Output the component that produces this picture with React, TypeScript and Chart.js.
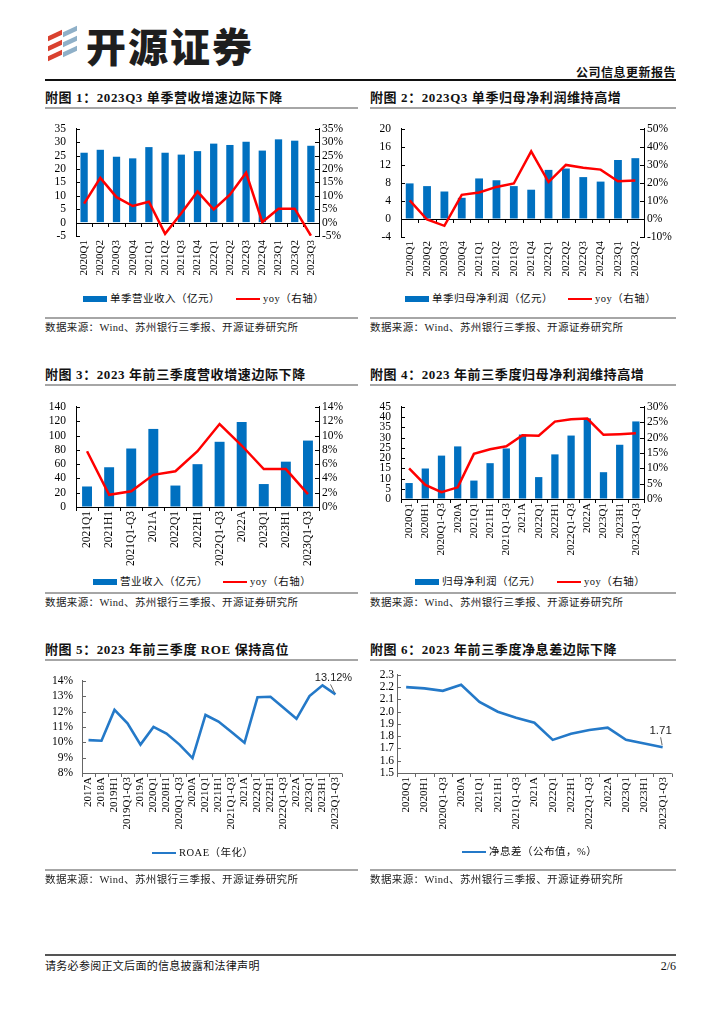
import React, { useEffect, useRef } from 'react';
import { Chart, registerables } from 'chart.js';

Chart.register(...registerables);

// ---------- DATA ----------
const quarterLabels1 = ['2020Q1', '2020Q2', '2020Q3', '2020Q4', '2021Q1', '2021Q2', '2021Q3', '2021Q4', '2022Q1', '2022Q2', '2022Q3', '2022Q4', '2023Q1', '2023Q2', '2023Q3'];
const quarterRevenue = [26.1, 27.2, 24.6, 24.0, 28.2, 26.1, 25.4, 26.7, 29.5, 29.0, 30.2, 26.9, 31.1, 30.6, 28.7];
const quarterRevenueYoy = [7.1, 16.7, 9.5, 6.2, 7.8, -4.2, 3.5, 11.6, 4.9, 10.4, 18.6, 0.2, 5.2, 5.2, -4.9];

const quarterLabels2 = ['2020Q1', '2020Q2', '2020Q3', '2020Q4', '2021Q1', '2021Q2', '2021Q3', '2021Q4', '2022Q1', '2022Q2', '2022Q3', '2022Q4', '2023Q1', '2023Q2'];
const quarterProfit = [7.9, 7.3, 6.1, 4.7, 9.0, 8.6, 7.3, 6.5, 10.9, 11.2, 9.3, 8.3, 13.1, 13.5];
const quarterProfitYoy = [10.3, -0.3, -3.8, 13.4, 14.7, 17.8, 19.7, 37.5, 20.5, 30.0, 28.4, 27.4, 20.9, 21.4];

const cumLabels3 = ['2021Q1', '2021H1', '2021Q1-Q3', '2021A', '2022Q1', '2022H1', '2022Q1-Q3', '2022A', '2023Q1', '2023H1', '2023Q1-Q3'];
const cumRevenue = [28.7, 55.6, 81.8, 109.2, 30.0, 59.9, 91.2, 119.0, 32.1, 63.4, 92.9];
const cumRevenueYoy = [7.8, 1.7, 2.2, 4.5, 5.0, 7.8, 11.6, 8.6, 5.3, 5.3, 1.8];

const cumLabels4 = ['2020Q1', '2020H1', '2020Q1-Q3', '2020A', '2021Q1', '2021H1', '2021Q1-Q3', '2021A', '2022Q1', '2022H1', '2022Q1-Q3', '2022A', '2023Q1', '2023H1', '2023Q1-Q3'];
const cumProfit = [7.8, 14.9, 21.2, 25.7, 9.0, 17.5, 24.7, 31.5, 10.7, 21.8, 31.0, 39.4, 13.1, 26.5, 37.9];
const cumProfitYoy = [10.0, 4.6, 2.2, 3.8, 14.7, 16.2, 17.2, 20.8, 20.6, 25.2, 26.0, 26.2, 20.9, 21.1, 21.4];

const roeLabels = ['2017A', '2018A', '2019H1', '2019Q1-Q3', '2019A', '2020Q1', '2020H1', '2020Q1-Q3', '2020A', '2021Q1', '2021H1', '2021Q1-Q3', '2021A', '2022Q1', '2022H1', '2022Q1-Q3', '2022A', '2023Q1', '2023H1', '2023Q1-Q3'];
const roeValues = [10.14, 10.1, 12.11, 11.23, 9.85, 11.0, 10.57, 9.85, 8.97, 11.78, 11.35, 10.67, 9.97, 12.93, 12.97, 12.25, 11.53, 13.01, 13.71, 13.12];

const nimLabels = ['2020Q1', '2020H1', '2020Q1-Q3', '2020A', '2021Q1', '2021H1', '2021Q1-Q3', '2021A', '2022Q1', '2022H1', '2022Q1-Q3', '2022A', '2023Q1', '2023H1', '2023Q1-Q3'];
const nimValues = [2.2, 2.19, 2.17, 2.22, 2.08, 2.0, 1.95, 1.91, 1.77, 1.82, 1.85, 1.87, 1.77, 1.74, 1.71];

// ---------- STYLE ----------
const SERIF = "'Liberation Serif', 'Times New Roman', serif";
const CJK = "'Liberation Serif', 'Noto Sans CJK SC', sans-serif";
const BAR_BLUE = '#0070C0';
const RED = '#FF0000';
const LINE_BLUE = '#2479C8';

// ---------- PLUGINS ----------
function axisDeco(color: string) {
  return {
    id: 'axisDeco',
    beforeDatasetsDraw(chart: any) {
      const { ctx, chartArea: a, scales } = chart;
      const ys = scales.y;
      let y0 = a.bottom;
      if (ys.min < 0 && ys.max > 0) y0 = ys.getPixelForValue(0);
      y0 = Math.round(y0) + 0.5;
      ctx.save();
      ctx.strokeStyle = color;
      ctx.lineWidth = 1;
      ctx.beginPath();
      ctx.moveTo(a.left, y0);
      ctx.lineTo(a.right, y0);
      const n = chart.data.labels.length;
      for (let i = 0; i <= n; i++) {
        const xx = Math.round(a.left + ((a.right - a.left) * i) / n) + 0.5;
        ctx.moveTo(xx, y0);
        ctx.lineTo(xx, y0 + 3.5);
      }
      ['y', 'y1'].forEach((id) => {
        const s = scales[id];
        if (!s) return;
        const left = s.position === 'left';
        const xa = left ? a.left : a.right;
        s.ticks.forEach((_t: any, i: number) => {
          const py = Math.round(s.getPixelForTick(i)) + 0.5;
          ctx.moveTo(xa, py);
          ctx.lineTo(xa + (left ? 4 : -4), py);
        });
      });
      ctx.stroke();
      ctx.restore();
    },
  };
}

function lastLabel(text: string, dx: number, dy: number, l1: number[], l2: number[], size: number) {
  return {
    id: 'lastLabel',
    afterDatasetsDraw(chart: any) {
      const meta = chart.getDatasetMeta(0);
      const p = meta.data[meta.data.length - 1];
      const { ctx } = chart;
      ctx.save();
      ctx.fillStyle = '#222';
      ctx.font = `${size}px 'Liberation Sans', Arial, sans-serif`;
      ctx.textAlign = 'center';
      ctx.textBaseline = 'middle';
      ctx.fillText(text, p.x + dx, p.y + dy);
      ctx.strokeStyle = '#444';
      ctx.lineWidth = 0.8;
      ctx.beginPath();
      ctx.moveTo(p.x + l1[0], p.y + l1[1]);
      ctx.lineTo(p.x + l2[0], p.y + l2[1]);
      ctx.stroke();
      ctx.restore();
    },
  };
}

// ---------- CONFIG BUILDERS ----------
type Range = { min: number; max: number; step: number };

function xScale(xH: number, xFont: number) {
  return {
    offset: true,
    grid: { display: false, drawTicks: false },
    border: { display: false },
    ticks: {
      autoSkip: false,
      minRotation: 90,
      maxRotation: 90,
      padding: 4,
      color: '#000',
      font: { family: SERIF, size: xFont },
    },
    afterFit: (s: any) => {
      s.height = xH;
    },
  };
}

function comboConfig(o: {
  labels: string[];
  bars: number[];
  line: number[];
  yl: Range;
  yr: Range;
  leftW: number;
  rightW: number;
  padTop: number;
  xH: number;
  xFont: number;
  yFont: number;
}) {
  return {
    type: 'bar',
    data: {
      labels: o.labels,
      datasets: [
        {
          type: 'line',
          data: o.line,
          yAxisID: 'y1',
          borderColor: RED,
          backgroundColor: RED,
          borderWidth: 2.5,
          pointRadius: 0,
          tension: 0,
          order: 0,
        },
        {
          type: 'bar',
          data: o.bars,
          yAxisID: 'y',
          backgroundColor: BAR_BLUE,
          categoryPercentage: 1,
          barPercentage: 0.45,
          order: 1,
        },
      ],
    },
    options: {
      responsive: false,
      animation: false,
      layout: { padding: { top: o.padTop, left: 0, right: 0, bottom: 0 } },
      plugins: { legend: { display: false }, tooltip: { enabled: false } },
      scales: {
        x: xScale(o.xH, o.xFont),
        y: {
          position: 'left',
          min: o.yl.min,
          max: o.yl.max,
          grid: { display: true, drawOnChartArea: false, drawTicks: false },
          border: { display: true, color: '#000', width: 1 },
          ticks: { stepSize: o.yl.step, autoSkip: false, padding: 10, color: '#000', font: { family: SERIF, size: o.yFont } },
          afterFit: (s: any) => {
            s.width = o.leftW;
          },
        },
        y1: {
          position: 'right',
          min: o.yr.min,
          max: o.yr.max,
          grid: { display: true, drawOnChartArea: false, drawTicks: false },
          border: { display: true, color: '#000', width: 1 },
          ticks: {
            stepSize: o.yr.step,
            autoSkip: false,
            padding: 3,
            color: '#000',
            font: { family: SERIF, size: o.yFont },
            callback: (v: any) => `${v}%`,
          },
          afterFit: (s: any) => {
            s.width = o.rightW;
          },
        },
      },
    },
    plugins: [axisDeco('#000')],
  };
}

function lineConfig(o: {
  labels: string[];
  values: number[];
  y: Range;
  fmt: (v: number) => string;
  leftW: number;
  padRight: number;
  padTop: number;
  xH: number;
  xFont: number;
  yFont: number;
  yPad: number;
  label: any;
}) {
  return {
    type: 'line',
    data: {
      labels: o.labels,
      datasets: [
        {
          data: o.values,
          borderColor: LINE_BLUE,
          backgroundColor: LINE_BLUE,
          borderWidth: 2.6,
          pointRadius: 0,
          tension: 0,
        },
      ],
    },
    options: {
      responsive: false,
      animation: false,
      layout: { padding: { top: o.padTop, left: 0, right: o.padRight, bottom: 0 } },
      plugins: { legend: { display: false }, tooltip: { enabled: false } },
      scales: {
        x: xScale(o.xH, o.xFont),
        y: {
          position: 'left',
          min: o.y.min,
          max: o.y.max,
          grid: { display: true, drawOnChartArea: false, drawTicks: false },
          border: { display: true, color: '#666', width: 1 },
          ticks: {
            stepSize: o.y.step,
            autoSkip: false,
            padding: o.yPad,
            color: '#000',
            font: { family: SERIF, size: o.yFont },
            callback: (v: any) => o.fmt(Number(v)),
          },
          afterFit: (s: any) => {
            s.width = o.leftW;
          },
        },
      },
    },
    plugins: [axisDeco('#666'), o.label],
  };
}

// ---------- COMPONENTS ----------
function ChartBox({ left, top, width, height, make }: { left: number; top: number; width: number; height: number; make: () => any }) {
  const ref = useRef<HTMLCanvasElement>(null);
  useEffect(() => {
    const chart = new Chart(ref.current as HTMLCanvasElement, make());
    return () => chart.destroy();
  }, []);
  return (
    <canvas
      ref={ref}
      width={width}
      height={height}
      style={{ position: 'absolute', left, top, width, height }}
    />
  );
}

const abs = (left: number, top: number, extra: React.CSSProperties = {}): React.CSSProperties => ({
  position: 'absolute',
  left,
  top,
  ...extra,
});

function Title({ x, y, w, text }: { x: number; y: number; w: number; text: string }) {
  return (
    <>
      <div style={abs(x, y - 9, { fontFamily: CJK, fontWeight: 700, fontSize: 13, lineHeight: '18px', color: '#111', whiteSpace: 'nowrap', letterSpacing: 0.6 })}>{text}</div>
      <div style={abs(x, y + 9, { width: w, height: 2, background: '#A6A6A6' })} />
    </>
  );
}

function Source({ x, y, w }: { x: number; y: number; w: number }) {
  return (
    <>
      <div style={abs(x, y - 11, { width: w, height: 1.5, background: '#A6A6A6' })} />
      <div style={abs(x, y - 8, { fontFamily: CJK, fontSize: 10.5, lineHeight: '16px', color: '#222', whiteSpace: 'nowrap', letterSpacing: 0.4 })}>
        数据来源：Wind、苏州银行三季报、开源证券研究所
      </div>
    </>
  );
}

function LegendItem({ x, y, kind, color, text }: { x: number; y: number; kind: 'bar' | 'line'; color: string; text: string }) {
  return (
    <>
      <div
        style={abs(x, kind === 'bar' ? y - 3 : y - 1.25, {
          width: 24,
          height: kind === 'bar' ? 6 : 2.5,
          background: color,
        })}
      />
      <div style={abs(x + 27, y - 8, { fontFamily: CJK, fontSize: 10.5, lineHeight: '16px', color: '#111', whiteSpace: 'nowrap', letterSpacing: 0.5 })}>{text}</div>
    </>
  );
}

function Logo() {
  const red = '#D9412F';
  const gray = '#8FB0C8';
  const stripe = (l: number, t: number, c: string, sk: number) => (
    <div style={abs(l, t, { width: 14, height: 5, background: c, transform: `skewY(${sk}deg)` })} />
  );
  return (
    <>
      {stripe(48, 33, red, -25)}
      {stripe(48, 43, red, -25)}
      {stripe(48, 53, red, -25)}
      {stripe(63, 29, gray, -25)}
      {stripe(63, 39, gray, -25)}
      {stripe(63, 49, gray, -25)}
      <div style={abs(86, 22, { fontFamily: "'Noto Sans CJK SC', sans-serif", fontWeight: 900, fontSize: 40, lineHeight: '46px', color: '#1E1E1E', letterSpacing: 2, whiteSpace: 'nowrap' })}>
        开源证券
      </div>
    </>
  );
}

export default function App() {
  useEffect(() => {
    document.body.style.margin = '0';
  }, []);

  return (
    <div style={{ position: 'relative', width: 724, height: 1024, background: '#fff', overflow: 'hidden' }}>
      <Logo />
      <div style={abs(0, 65, { width: 676, textAlign: 'right', fontFamily: CJK, fontWeight: 700, fontSize: 12, lineHeight: '16px', color: '#111', letterSpacing: 0.5 })}>
        公司信息更新报告
      </div>
      <div style={abs(45, 79, { width: 631, height: 2, background: '#111' })} />

      {/* Row 1 */}
      <Title x={45} y={98} w={313} text="附图 1：2023Q3 单季营收增速边际下降" />
      <Title x={370} y={98} w={306} text="附图 2：2023Q3 单季归母净利润维持高增" />
      <ChartBox
        left={45}
        top={112}
        width={315}
        height={170}
        make={() =>
          comboConfig({
            labels: quarterLabels1,
            bars: quarterRevenue,
            line: quarterRevenueYoy,
            yl: { min: -5, max: 35, step: 5 },
            yr: { min: -5, max: 35, step: 5 },
            leftW: 31,
            rightW: 41,
            padTop: 13,
            xH: 46,
            xFont: 11,
            yFont: 11.5,
          })
        }
      />
      <ChartBox
        left={370}
        top={112}
        width={306}
        height={170}
        make={() =>
          comboConfig({
            labels: quarterLabels2,
            bars: quarterProfit,
            line: quarterProfitYoy,
            yl: { min: -4, max: 20, step: 4 },
            yr: { min: -10, max: 50, step: 10 },
            leftW: 31,
            rightW: 32,
            padTop: 7,
            xH: 45,
            xFont: 11,
            yFont: 11.5,
          })
        }
      />
      <LegendItem x={83} y={299} kind="bar" color={BAR_BLUE} text="单季营业收入（亿元）" />
      <LegendItem x={236} y={299} kind="line" color={RED} text="yoy（右轴）" />
      <LegendItem x={405} y={299} kind="bar" color={BAR_BLUE} text="单季归母净利润（亿元）" />
      <LegendItem x={568} y={299} kind="line" color={RED} text="yoy（右轴）" />
      <Source x={45} y={328} w={313} />
      <Source x={370} y={328} w={306} />

      {/* Row 2 */}
      <Title x={45} y={375} w={313} text="附图 3：2023 年前三季度营收增速边际下降" />
      <Title x={370} y={375} w={306} text="附图 4：2023 年前三季度归母净利润维持高增" />
      <ChartBox
        left={45}
        top={390}
        width={315}
        height={180}
        make={() =>
          comboConfig({
            labels: cumLabels3,
            bars: cumRevenue,
            line: cumRevenueYoy,
            yl: { min: 0, max: 140, step: 20 },
            yr: { min: 0, max: 14, step: 2 },
            leftW: 31,
            rightW: 41,
            padTop: 8,
            xH: 63,
            xFont: 11.5,
            yFont: 11.5,
          })
        }
      />
      <ChartBox
        left={370}
        top={390}
        width={306}
        height={180}
        make={() =>
          comboConfig({
            labels: cumLabels4,
            bars: cumProfit,
            line: cumProfitYoy,
            yl: { min: 0, max: 45, step: 5 },
            yr: { min: 0, max: 30, step: 5 },
            leftW: 31,
            rightW: 32,
            padTop: 9,
            xH: 71,
            xFont: 11,
            yFont: 11.5,
          })
        }
      />
      <LegendItem x={93} y={582} kind="bar" color={BAR_BLUE} text="营业收入（亿元）" />
      <LegendItem x={223} y={582} kind="line" color={RED} text="yoy（右轴）" />
      <LegendItem x={415} y={582} kind="bar" color={BAR_BLUE} text="归母净利润（亿元）" />
      <LegendItem x={557} y={582} kind="line" color={RED} text="yoy（右轴）" />
      <Source x={45} y={603} w={313} />
      <Source x={370} y={603} w={306} />

      {/* Row 3 */}
      <Title x={45} y={650} w={313} text="附图 5：2023 年前三季度 ROE 保持高位" />
      <Title x={370} y={650} w={306} text="附图 6：2023 年前三季度净息差边际下降" />
      <ChartBox
        left={45}
        top={665}
        width={315}
        height={185}
        make={() =>
          lineConfig({
            labels: roeLabels,
            values: roeValues,
            y: { min: 8, max: 14, step: 1 },
            fmt: (v) => `${v}%`,
            leftW: 37,
            padRight: 18,
            padTop: 11,
            xH: 77,
            xFont: 11,
            yFont: 11.5,
            yPad: 9,
            label: lastLabel('13.12%', -2, -16, [-5, -10], [-1, -2], 11),
          })
        }
      />
      <ChartBox
        left={370}
        top={665}
        width={310}
        height={185}
        make={() =>
          lineConfig({
            labels: nimLabels,
            values: nimValues,
            y: { min: 1.5, max: 2.3, step: 0.1 },
            fmt: (v) => v.toFixed(1),
            leftW: 27,
            padRight: 5,
            padTop: 9,
            xH: 77,
            xFont: 11,
            yFont: 11.5,
            yPad: 3,
            label: lastLabel('1.71', -2, -16, [-2, -10], [-0.5, -2], 11.5),
          })
        }
      />
      <LegendItem x={152} y={853} kind="line" color={LINE_BLUE} text="ROAE（年化）" />
      <LegendItem x={462} y={852} kind="line" color={LINE_BLUE} text="净息差（公布值，%）" />
      <Source x={45} y={880} w={313} />
      <Source x={370} y={880} w={306} />

      {/* Footer */}
      <div style={abs(45, 954, { width: 631, height: 2, background: '#555' })} />
      <div style={abs(45, 958, { fontFamily: CJK, fontSize: 11, lineHeight: '16px', color: '#111', whiteSpace: 'nowrap', letterSpacing: 0.3 })}>
        请务必参阅正文后面的信息披露和法律声明
      </div>
      <div style={abs(0, 958, { width: 676, textAlign: 'right', fontFamily: SERIF, fontSize: 12, lineHeight: '16px', color: '#111' })}>2/6</div>
    </div>
  );
}
